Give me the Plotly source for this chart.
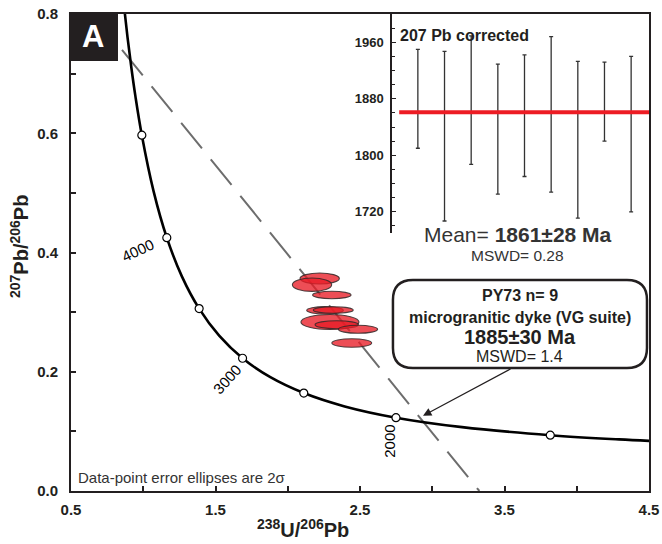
import plotly.graph_objects as go

# ---- Tera-Wasserburg concordia (238U/206Pb vs 207Pb/206Pb)
conc_x = [0.8657, 0.8912, 0.918, 0.9459, 0.9902, 1.0713, 1.163, 1.2673, 1.3868,
          1.5253, 1.6873, 1.8796, 2.1109, 2.3942, 2.749, 3.2063, 3.8168, 4.2924, 4.6731]
conc_y = [0.8161, 0.7608, 0.7094, 0.6618, 0.5967, 0.503, 0.4249, 0.36, 0.3059,
          0.2605, 0.2226, 0.1909, 0.1643, 0.1419, 0.123, 0.1071, 0.0936, 0.0865, 0.0822]

# age ticks on the concordia (Ma)
tick_age = [1500, 2000, 2500, 3000, 3500, 4000, 4500]
tick_x = [3.8168, 2.749, 2.1109, 1.6873, 1.3868, 1.163, 0.9902]
tick_y = [0.0936, 0.123, 0.1643, 0.2226, 0.3059, 0.4249, 0.5967]

# discordia regression line end points
disc_x = [0.853, 3.326]
disc_y = [0.740, 0.0]

# analyses: centres and 2-sigma half-axes of the error ellipses
ell_x = [2.221, 2.168, 2.305, 2.258, 2.315, 2.292, 2.339, 2.486, 2.443]
ell_y = [0.3564, 0.346, 0.3287, 0.303, 0.3036, 0.2834, 0.2789, 0.2712, 0.2482]
ell_dx = [0.136, 0.136, 0.133, 0.127, 0.138, 0.201, 0.150, 0.136, 0.138]
ell_dy = [0.0092, 0.0112, 0.0062, 0.0062, 0.0055, 0.0126, 0.0067, 0.0067, 0.0072]

# 207Pb-corrected ages (Ma) with 2-sigma errors
spot = [1, 2, 3, 4, 5, 6, 7, 8, 9]
age_207c = [1880, 1827, 1878, 1837, 1856, 1858, 1822, 1876, 1830]
age_err = [70, 120, 91, 92, 86, 110, 111, 56, 110]
mean_age = 1861

FONT = "Liberation Sans, Arial, sans-serif"
INK = "#231f20"

fig = go.Figure()

# discordia
fig.add_trace(go.Scatter(x=disc_x, y=disc_y, mode="lines",
                         line=dict(color="#6d6d6d", width=2, dash="33px,14px"),
                         hoverinfo="skip", showlegend=False))
# concordia curve
fig.add_trace(go.Scatter(x=conc_x, y=conc_y, mode="lines", line_shape="spline",
                         line=dict(color="black", width=2.6),
                         hoverinfo="skip", showlegend=False))
fig.add_trace(go.Scatter(x=tick_x, y=tick_y, mode="markers", text=tick_age,
                         marker=dict(size=8, color="white", line=dict(color="black", width=1.2)),
                         showlegend=False))

# inset: weighted mean of 207Pb-corrected ages
fig.add_trace(go.Scatter(x=spot, y=age_207c, mode="markers", xaxis="x2", yaxis="y2",
                         marker=dict(size=1, color="rgba(0,0,0,0)"),
                         error_y=dict(type="data", array=age_err, color="#333333",
                                      thickness=1.3, width=2),
                         showlegend=False))
fig.add_trace(go.Scatter(x=[0.3, 9.67], y=[mean_age, mean_age], mode="lines",
                         xaxis="x2", yaxis="y2",
                         line=dict(color="#ed1c24", width=4), showlegend=False))

shapes = []
for cx, cy, dx, dy in zip(ell_x, ell_y, ell_dx, ell_dy):
    shapes.append(dict(type="circle", xref="x", yref="y",
                       x0=cx - dx, x1=cx + dx, y0=cy - dy, y1=cy + dy,
                       fillcolor="rgba(232,28,38,0.78)",
                       line=dict(color="rgba(50,40,40,0.85)", width=1.1), layer="above"))

# rounded label box
bx0, bx1, by0, by1 = 2.728, 4.486, 0.2063, 0.3539
rx, ry = 20 / 144.5, 20 / 596.25
box_path = (f"M {bx0 + rx},{by1} L {bx1 - rx},{by1} Q {bx1},{by1} {bx1},{by1 - ry} "
            f"L {bx1},{by0 + ry} Q {bx1},{by0} {bx1 - rx},{by0} "
            f"L {bx0 + rx},{by0} Q {bx0},{by0} {bx0},{by0 + ry} "
            f"L {bx0},{by1 - ry} Q {bx0},{by1} {bx0 + rx},{by1} Z")
shapes.append(dict(type="path", xref="x", yref="y", path=box_path,
                   fillcolor="white", line=dict(color=INK, width=2.5), layer="above"))

# panel letter box
shapes.append(dict(type="rect", xref="paper", yref="paper",
                   x0=-0.0035, x1=0.0813, y0=0.9015, y1=1.0042,
                   fillcolor=INK, line=dict(width=0), layer="above"))


def note(text, x, y, size, color=INK, **kw):
    d = dict(text=text, x=x, y=y, showarrow=False, xanchor="center", yanchor="middle",
             font=dict(family=FONT, size=size, color=color))
    d.update(kw)
    return d


annotations = [
    note("<b>A</b>", 0.0389, (491 - 36.5) / 477, 31, "white", xref="paper", yref="paper"),
    # axis titles
    note("<b><sup>238</sup>U/<sup>206</sup>Pb</b>", (303 - 71) / 578, (491 - 528) / 477, 20,
         xref="paper", yref="paper"),
    note("<b><sup>207</sup>Pb/<sup>206</sup>Pb</b>", (20 - 71) / 578, (491 - 247) / 477, 20,
         xref="paper", yref="paper", textangle=-90),
    # concordia age labels
    note("4000", 0.957, 0.4042, 15, "black", textangle=-25),
    note("3000", 1.580, 0.1862, 15, "black", textangle=-48),
    note("2000", 2.708, 0.0827, 15, "black", textangle=-90),
    note("Data-point error ellipses are 2σ", (76 - 71) / 578, (491 - 477) / 477, 15, "#333333",
         xref="paper", yref="paper", xanchor="left"),
    # label box text
    note("<b>PY73 n= 9</b>", 3.607, 0.3287, 16),
    note("<b>microgranitic dyke (VG suite)</b>", 3.607, 0.2918, 16),
    note("<b>1885±30 Ma</b>", 3.607, 0.2583, 20),
    note("MSWD= 1.4", 3.607, 0.2264, 16),
    # inset texts
    note("<b>207 Pb corrected</b>", 0.259, 1970, 16, xref="x2", yref="y2", xanchor="left"),
    note("Mean= <b>1861±28 Ma</b>", 3.593, 0.4294, 21, "#333333"),
    note("MSWD= 0.28", 3.593, 0.3958, 15.5, "#333333"),
    # arrow to the lower intercept
    dict(text="", x=2.936, y=0.126, ax=3.552, ay=0.206, axref="x", ayref="y",
         showarrow=True, arrowhead=2, arrowsize=1.4, arrowwidth=1.2, arrowcolor=INK,
         standoff=0),
]

tick_style = dict(ticks="inside", ticklen=5, tickwidth=1.5, tickcolor=INK,
                  showgrid=False, zeroline=False, automargin=False,
                  tickfont=dict(family=FONT, size=15, color=INK, weight="bold"))
minor_style = dict(ticks="inside", ticklen=5, tickwidth=1.5, tickcolor=INK, showgrid=False)

fig.update_layout(
    width=662, height=544,
    margin=dict(l=71, r=13, t=14, b=53, autoexpand=False),
    paper_bgcolor="white", plot_bgcolor="white",
    showlegend=False,
    xaxis=dict(range=[0.5, 4.5], tickmode="linear", tick0=0.5, dtick=1, tickformat=".1f",
               minor=dict(dtick=0.5, **minor_style),
               showline=True, linecolor=INK, linewidth=2, mirror=True,
               ticklabelstandoff=4, **tick_style),
    yaxis=dict(range=[0, 0.8], tickmode="linear", tick0=0, dtick=0.2, tickformat=".1f",
               minor=dict(dtick=0.1, **minor_style),
               showline=True, linecolor=INK, linewidth=2, mirror=True,
               ticklabelstandoff=8, **tick_style),
    xaxis2=dict(domain=[(392 - 71) / 578, 1.0], range=[0.03, 9.67], anchor="y2",
                visible=False, automargin=False),
    yaxis2=dict(domain=[(491 - 233) / 477, 1.0], range=[1690, 2000], anchor="x2",
                tickmode="linear", tick0=1720, dtick=80,
                ticks="inside", ticklen=4, tickwidth=1, tickcolor=INK,
                minor=dict(dtick=20, ticks="inside", ticklen=3, tickwidth=1,
                           tickcolor=INK, showgrid=False),
                showline=True, linecolor=INK, linewidth=1.5,
                showgrid=False, zeroline=False, automargin=False,
                ticklabelstandoff=4,
                tickfont=dict(family=FONT, size=13, color=INK, weight="bold")),
    shapes=shapes,
    annotations=annotations,
)

fig.write_html("out.html")
